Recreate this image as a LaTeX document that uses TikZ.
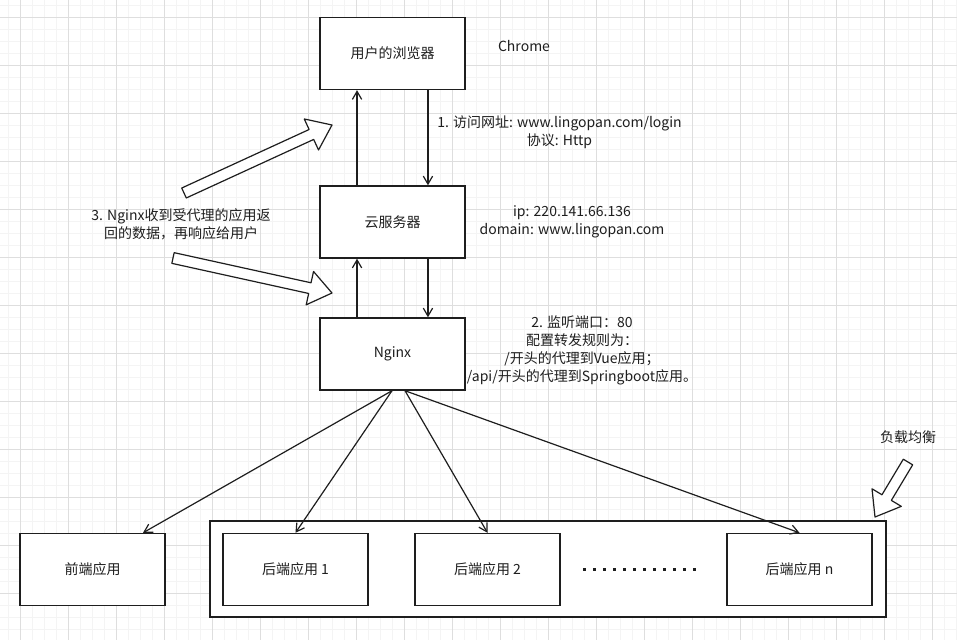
\documentclass[tikz,border=0pt]{standalone}
\usepackage{fontspec}
\setmainfont{Noto Sans CJK SC}
\usetikzlibrary{calc,arrows.meta}
\definecolor{ink}{HTML}{1E1E1E}
\definecolor{gMin}{HTML}{F4F4F4}
\definecolor{gMaj}{HTML}{DEDEDE}

% hollow block arrow: tail, tip
\newcommand\bigarrow[2]{%
  \path ($(#2)!17pt!(#1)$) coordinate (hb);
  \draw[bigarr] ($(#1)!4.1pt!90:(#2)$) -- ($(hb)!4.1pt!90:(#2)$) -- ($(hb)!12.8pt!90:(#2)$)
    -- (#2) -- ($(hb)!12.8pt!-90:(#2)$) -- ($(hb)!4.1pt!-90:(#2)$) -- ($(#1)!4.1pt!-90:(#2)$) -- cycle;
}

\begin{document}
\begin{tikzpicture}[x=0.75pt,y=-0.75pt,
  box/.style={draw=ink,line width=1.1pt,fill=white,minimum width=108.75pt,minimum height=54pt,
              font=\fontsize{10.5pt}{13pt}\selectfont,text=ink},
  link/.style={draw=ink,line width=0.9pt,-{Straight Barb[length=6pt,width=7pt]}},
  note/.style={align=center,font=\fontsize{10.5pt}{13.5pt}\selectfont,text=ink},
  bigarr/.style={draw=ink,line width=0.9pt,fill=white,line join=round}]
  \useasboundingbox (0,0) rectangle (957,640);
  \fill[white] (0,0) rectangle (957,640);
  % grid
  \foreach \x in {8,20,...,956} \draw[gMin,line width=0.5pt] (\x,0) -- (\x,640);
  \foreach \y in {5,17,...,640} \draw[gMin,line width=0.5pt] (0,\y) -- (957,\y);
  \foreach \x in {20,68,...,956} \draw[gMaj,line width=0.6pt] (\x,0) -- (\x,640);
  \foreach \y in {17,65,...,640} \draw[gMaj,line width=0.6pt] (0,\y) -- (957,\y);

  \node[box] (browser) at (392.5,53.5) {用户的浏览器};
  \node[box] (cloud) at (392.5,222) {云服务器};
  \node[box] (nginx) at (392.5,354) {Nginx};
  \node[box] (front) at (92.5,569.5) {前端应用};
  \node[box,minimum width=507pt,minimum height=72pt] (pool) at (548,569) {};
  \foreach \n/\x/\t in {b1/295.5/1, b2/487.5/2, bn/799.5/n}
    \node[box] (\n) at (\x,569.5) {后端应用 \t};
  \draw[ink,line width=2.2pt,dash pattern=on 2pt off 5.5pt] ([xshift=17pt]b2.east) -- ([xshift=-18pt]bn.west);

  \draw[link] ([xshift=-26.6pt]cloud.north) -- ([xshift=-26.6pt]browser.south);
  \draw[link] ([xshift=26.6pt]browser.south) -- ([xshift=26.6pt]cloud.north);
  \draw[link] ([xshift=-26.6pt]nginx.north) -- ([xshift=-26.6pt]cloud.south);
  \draw[link] ([xshift=26.6pt]cloud.south) -- ([xshift=26.6pt]nginx.north);

  \draw[link] ([xshift=-0.4pt]nginx.south) -- ([xshift=37.9pt]front.north);
  \draw[link] ([xshift=-0.4pt]nginx.south) -- (b1.north);
  \draw[link] ([xshift=9.4pt]nginx.south) -- (b2.north);
  \draw[link] ([xshift=9.4pt]nginx.south) -- (bn.north);

  \node[note] (chrome) at (524,46) {Chrome};
  \node[note] (visit) at (559.5,132) {1. 访问网址: www.lingopan.com/login\\协议: Http};
  \node[note] (host) at (572,222) {ip: 220.141.66.136\\domain: www.lingopan.com};
  \node[note] (rule) at (582,350) {2. 监听端口：80\\配置转发规则为：\\/开头的代理到Vue应用；\\/api/开头的代理到Springboot应用。};
  \node[note] (reply) at (181,224) {3. Nginx收到受代理的应用返\\回的数据，再响应给用户};
  \node[note] (balance) at (908,437) {负载均衡};

  \coordinate (upT) at (184,193);
  \coordinate (upP) at (332,125);
  \coordinate (loT) at (173,258);
  \coordinate (loP) at (332,293);
  \coordinate (lbT) at (908,462);
  \coordinate (lbP) at (875,517);
  \bigarrow{upT}{upP}
  \bigarrow{loT}{loP}
  \bigarrow{lbT}{lbP}
\end{tikzpicture}
\end{document}
